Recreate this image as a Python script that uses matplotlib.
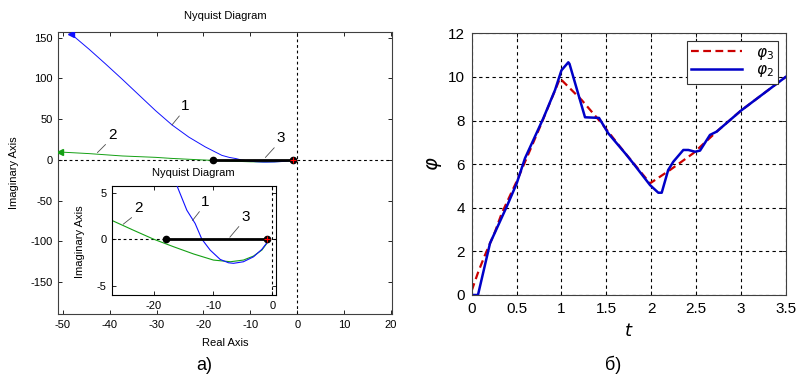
import matplotlib
matplotlib.use("Agg")
import matplotlib.pyplot as plt

plt.rcParams['font.family'] = ['Liberation Sans', 'DejaVu Sans']
plt.rcParams['mathtext.fontset'] = 'dejavusans'
plt.rcParams['axes.unicode_minus'] = False

# --- data: Nyquist curves (a) ---
c1_re = [-48.3, -44.4, -40.9, -37.3, -33.8, -30.2, -26.7, -23.1, -19.6, -16.05,
         -14.46, -13.06, -11.93, -10.52, -8.83, -7.43, -6.59, -4.9, -3.2,
         -1.79, -0.95]
c1_im = [155, 136, 118, 99, 80, 60.5, 43, 28, 16, 5.6,
         3.1, 1.68, 0.0, -1.18, -2.18, -2.54, -2.6, -2.43, -1.9,
         -1.1, -0.4]
c2_re = [-50.8, -44.4, -37.3, -30.2, -26.96, -23.5, -20.1, -16.7, -13.3, -9.97,
         -7.1, -4.9, -3.2, -1.79, -0.95]
c2_im = [9.8, 7.8, 4.9, 3.2, 1.96, 0.96, 0.0, -0.82, -1.6, -2.25,
         -2.43, -2.25, -1.82, -1.18, -0.46]
c3_re = [-18.0, -1.0]
c3_im = [0.0, 0.0]

# --- data: phi(t) (б) ---
t3 = [0.0, 0.074, 0.148, 0.26, 0.334, 0.5, 0.75, 0.984, 1.226, 1.449, 1.653,
      1.988, 2.21, 2.47, 2.73, 3.0, 3.5]
phi3 = [0.2, 1.07, 1.83, 2.9, 3.74, 5.2, 7.6, 9.93, 8.94, 7.87, 6.8,
        5.12, 5.73, 6.5, 7.49, 8.45, 10.0]
t2 = [0.0, 0.07, 0.204, 0.39, 0.5, 0.594, 0.798, 0.929, 1.0, 1.077, 1.09,
      1.263, 1.419, 1.523, 1.71, 1.80, 1.988, 2.08, 2.118, 2.19, 2.247,
      2.359, 2.415, 2.489, 2.545, 2.656, 2.73, 2.879, 3.0, 3.5]
phi2 = [0.0, 0.0, 2.37, 4.05, 5.1, 6.27, 8.1, 9.4, 10.3, 10.67, 10.6,
        8.15, 8.12, 7.41, 6.5, 6.04, 5.04, 4.69, 4.69, 5.73, 6.11,
        6.65, 6.65, 6.57, 6.62, 7.34, 7.49, 8.02, 8.45, 10.0]

W, H = 797, 374
fig = plt.figure(figsize=(W / 100, H / 100), dpi=100)

def box(x0, y0, x1, y1):
    return [x0 / W, 1 - y1 / H, (x1 - x0) / W, (y1 - y0) / H]

BLUE = '#1010ff'
GREEN = '#14a014'

def nyquist(ax, lw_c):
    ax.axhline(0, color='k', ls=(0, (2.5, 2.5)), lw=0.8, zorder=1)
    ax.axvline(0, color='k', ls=(0, (2.5, 2.5)), lw=0.8, zorder=1)
    ax.plot(c2_re, c2_im, color=GREEN, lw=lw_c, zorder=2)
    ax.plot(c1_re, c1_im, color=BLUE, lw=lw_c, zorder=3)
    ax.plot(c3_re, c3_im, color='k', lw=2.0, marker='o', ms=4.5, zorder=4)
    ax.plot([-1], [0], marker='+', color='red', ms=4, mew=0.8, zorder=5)
    ax.tick_params(direction='in', top=True, right=True, length=3,
                   width=0.6, labelsize=8, pad=4)
    for s in ax.spines.values():
        s.set_linewidth(0.8)
        s.set_color('0.25')

def tag(ax, txt, xy, xyt):
    ax.annotate(txt, xy=xy, xytext=xyt, fontsize=11, ha='center', va='center',
                arrowprops=dict(arrowstyle='-', color='0.3', lw=0.6,
                                relpos=(0.1, 0.05), shrinkA=0, shrinkB=0))

# main Nyquist axes
ax = fig.add_axes(box(58, 32, 392, 314))
nyquist(ax, 0.7)
ax.plot([c1_re[0]], [c1_im[0]], marker='<', color=BLUE, ms=5, zorder=5)
ax.plot([c2_re[0] + 0.3], [c2_im[0]], marker='<', color=GREEN, ms=5, zorder=5)
ax.set_xlim(-51, 20.2)
ax.set_ylim(-189, 157)
ax.set_xticks(range(-50, 21, 10))
ax.set_yticks(range(-150, 151, 50))
tag(ax, '1', (-26.7, 43), (-23.8, 66))
tag(ax, '2', (-42.6, 9), (-39.4, 31))
tag(ax, '3', (-6.8, 3), (-3.5, 27))
fig.text(225 / W, 1 - 16 / H, 'Nyquist Diagram', fontsize=8,
         ha='center', va='center')
fig.text(225 / W, 1 - 343 / H, 'Real Axis', fontsize=8, ha='center', va='center')
fig.text(14 / W, 1 - 173 / H, 'Imaginary Axis', fontsize=8, rotation=90,
         ha='center', va='center')
fig.text(204 / W, 1 - 366 / H, 'а)', fontsize=13, ha='center', va='center')

# inset
axi = fig.add_axes(box(112, 186, 276, 295))
nyquist(axi, 0.8)
axi.set_xlim(-27.1, 0.6)
axi.set_ylim(-6, 5.7)
axi.set_xticks([-20, -10, 0])
axi.set_yticks([-5, 0, 5])
for s in axi.spines.values():
    s.set_color('k')
tag(axi, '2', (-25.2, 1.6), (-22.6, 3.3))
tag(axi, '1', (-13.5, 2.0), (-11.3, 4.0))
tag(axi, '3', (-7.2, 0.2), (-4.6, 2.4))
fig.text(193 / W, 1 - 173 / H, 'Nyquist Diagram', fontsize=8,
         ha='center', va='center')
fig.text(80 / W, 1 - 242 / H, 'Imaginary Axis', fontsize=8, rotation=90,
         ha='center', va='center')

# right panel
axr = fig.add_axes(box(471.7, 33.3, 785.7, 295))
axr.plot(t3, phi3, color='#cc0000', lw=1.6, ls=(0, (3.5, 2)), label=r'$\varphi_3$')
axr.plot(t2, phi2, color='#0000c8', lw=1.8, label=r'$\varphi_2$')
axr.set_xlim(0, 3.5)
axr.set_ylim(0, 12)
axr.set_xticks([0, 0.5, 1, 1.5, 2, 2.5, 3, 3.5])
axr.set_xticklabels(['0', '0.5', '1', '1.5', '2', '2.5', '3', '3.5'])
axr.set_yticks(range(0, 13, 2))
axr.grid(True, color='k', ls=(0, (3, 3)), lw=0.8)
axr.tick_params(direction='in', top=True, right=True, length=3,
                width=0.6, labelsize=11, pad=5)
for s in axr.spines.values():
    s.set_linewidth(0.8)
    s.set_color('0.25')
leg = axr.legend(loc='upper right', fontsize=11, handlelength=3.3,
                 fancybox=False, framealpha=1, edgecolor='0.2',
                 borderaxespad=0.5, labelspacing=0.1, borderpad=0.3,
                 handletextpad=0.9)
leg.get_frame().set_linewidth(0.8)
axr.set_xlabel(r'$t$', fontsize=13, labelpad=5)
fig.text(435 / W, 1 - 164 / H, r'$\varphi$', fontsize=14, rotation=90,
         ha='center', va='center')
fig.text(613 / W, 1 - 365 / H, 'б)', fontsize=13, ha='center', va='center')

fig.savefig('out.png', dpi=100)
